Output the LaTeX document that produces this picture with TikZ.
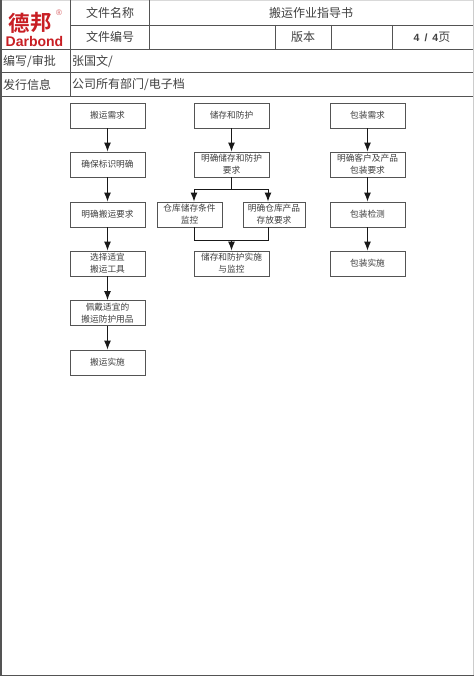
\documentclass[tikz,border=0pt]{standalone}
\usepackage{fontspec}
\setmainfont{Liberation Sans}
\newfontfamily\cjk{Noto Sans CJK SC}
\newfontfamily\cjkb{Noto Sans CJK SC Bold}
\usetikzlibrary{arrows.meta,positioning}
\definecolor{ink}{gray}{0.25}
\definecolor{rule}{gray}{0.33}
\definecolor{logored}{RGB}{200,30,35}
\tikzset{
  x=1pt,y=-1pt,
  tline/.style={draw=rule,line width=0.8pt},
  hd/.style={font=\cjk\fontsize{12}{14}\selectfont,text=ink,inner sep=0pt},
  hdl/.style={hd,anchor=west},
  flowbox/.style={draw=rule,line width=0.9pt,fill=white,inner sep=0pt,align=center,
    minimum width=75pt,minimum height=25pt,font=\cjk\fontsize{8.7}{12}\selectfont,text=ink},
  smallbox/.style={flowbox,minimum width=62pt},
  flow/.style={draw=black!90,line width=1pt,-{Latex[length=9pt,width=7pt]}},
  plain/.style={draw=black!90,line width=1pt},
}
\begin{document}
\begin{tikzpicture}
\useasboundingbox (0,0) rectangle (474,676);
\fill[white] (0,0) rectangle (474,676);
% outer frame
\fill[black!15] (0,0) rectangle (474,1.5);
\fill[rule] (0,0) rectangle (2,676);
\fill[black!20] (472.5,0) rectangle (474,676);
\fill[rule] (0,674.5) rectangle (474,676);
% table rules
\draw[tline] (70.5,25) -- (472.5,25);
\draw[tline] (0,49.5) -- (472.5,49.5);
\draw[tline] (0,72.5) -- (472.5,72.5);
\draw[tline] (0,96) -- (472.5,96);
\draw[tline] (70.5,0) -- (70.5,96);
\draw[tline] (149,0) -- (149,49.5);
\draw[tline] (275,25) -- (275,49.5);
\draw[tline] (331,25) -- (331,49.5);
\draw[tline] (392,25) -- (392,49.5);
% logo
\node[inner sep=0pt,text=logored,font=\cjkb\fontsize{21.5}{22}\selectfont] (logo) at (30,23) {德\raisebox{1.5pt}{邦}};
\node[inner sep=0pt,text=logored,font=\bfseries\fontsize{14}{14}\selectfont] (brand) at (34.5,41) {Darbond};
\node[inner sep=0pt,text=logored!70,font=\fontsize{8}{8}\selectfont] (reg) at (59,13) {®};
% table text
\node[hd] (t1) at (110,12.5) {文件名称};
\node[hd] (t2) at (110,37) {文件编号};
\node[hd] (t3) at (311,13) {搬运作业指导书};
\node[hd] (t4) at (303,37) {版本};
\node[hd,font=\bfseries\fontsize{10.5}{13}\selectfont] (t5) at (432,37) {4\hspace{5pt}/\hspace{5pt}4{\cjk\mdseries\fontsize{12}{13}\selectfont 页}};
\node[hdl] (t6) at (3,61) {编写/审批};
\node[hdl] (t7) at (72,61) {张国文/};
\node[hdl] (t8) at (3,84.5) {发行信息};
\node[hdl] (t9) at (72,84.5) {公司所有部门/电子档};
% column 1
\node[flowbox] (a1) at (107.5,115.5) {搬运需求};
\node[flowbox] (a2) at (107.5,164.5) {确保标识明确};
\node[flowbox] (a3) at (107.5,214.5) {明确搬运要求};
\node[flowbox] (a4) at (107.5,263.5) {选择适宜\\搬运工具};
\node[flowbox] (a5) at (107.5,313) {佩戴适宜的\\搬运防护用品};
\node[flowbox] (a6) at (107.5,362.5) {搬运实施};
\foreach \p/\q in {a1/a2,a2/a3,a3/a4,a4/a5,a5/a6}\draw[flow] (\p) -- (\q);
% column 2
\node[flowbox] (b1) at (231.5,115.5) {储存和防护};
\node[flowbox] (b2) at (231.5,164.5) {明确储存和防护\\要求};
\node[smallbox,minimum width=65pt] (b3) at (189.5,214.5) {仓库储存条件\\监控};
\node[smallbox] (b4) at (274,214.5) {明确仓库产品\\存放要求};
\node[flowbox] (b5) at (231.5,263.5) {储存和防护实施\\与监控};
\coordinate (bsplit) at (231.5,190);
\coordinate (bl) at (194,190);
\coordinate (br) at (268,190);
\coordinate (bl2) at (194,240);
\coordinate (br2) at (268,240);
\coordinate (bjoin) at (231.5,240);
\draw[flow] (b1) -- (b2);
\draw[plain] (b2) -- (bsplit);
\draw[flow] (bsplit) -- (bl) -- (bl |- b3.north);
\draw[flow] (bsplit) -- (br) -- (br |- b4.north);
\draw[plain] (bl |- b3.south) -- (bl2) -- (br2) -- (br |- b4.south);
\draw[flow] (bjoin) -- (b5);
% column 3
\node[flowbox] (c1) at (367.5,115.5) {包装需求};
\node[flowbox] (c2) at (367.5,164.5) {明确客户及产品\\包装要求};
\node[flowbox] (c3) at (367.5,214.5) {包装检测};
\node[flowbox] (c4) at (367.5,263.5) {包装实施};
\foreach \p/\q in {c1/c2,c2/c3,c3/c4}\draw[flow] (\p) -- (\q);
\end{tikzpicture}
\end{document}
